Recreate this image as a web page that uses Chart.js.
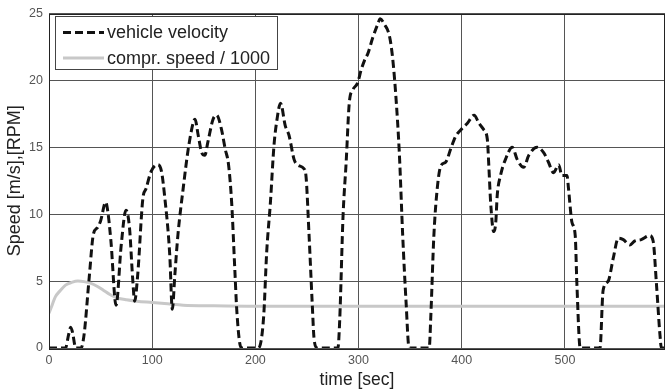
<!DOCTYPE html>
<html><head><meta charset="utf-8">
<script src="https://cdn.jsdelivr.net/npm/chart.js@4"></script>
<style>html,body{margin:0;padding:0;background:#fff}</style>
</head><body>
<canvas id="c" width="667" height="390"></canvas>
<script>
const timeVel = [0,16,19,21,23,25,26,31,34,39,43,47,50,55,57,60,65,70,74.6,78,81,83,86,91,94,99,105.5,109,112,117,119.5,122,125,130,135,140,141.5,144.6,148,151,154,159,162.5,167,170.7,174,177,180,182,185,187,203,208,211,214.6,218,221,224.4,229,232.6,237.5,240.7,247,249,252,255,257,260,280,281.7,285,288,291,294.5,299,302.6,305.8,309,313.8,318.6,321,325,330,333,336,339.5,342.8,346,349,368.5,370,373,376.5,379.7,384.6,389.4,394,399,405.5,412,416.7,421.5,424.8,426.4,428,431,433,434.4,437.6,442.4,449,453.7,460,465,473,479.4,484,489,494,497,502,503.5,506.8,510,511.6,514.8,534,537,542,546.8,551.7,556.6,563,567.8,574,582,585.5,588.7,592,593.5,597];
const vehicleVelocity = [0,0,1.0,1.55,1.1,0.2,0,0,1.0,5.3,8.5,9.0,9.5,10.9,10.2,8.0,3.2,7.7,10.3,9.0,5.3,3.5,5.5,11.2,11.9,13.2,13.7,13.2,11.4,7.0,2.9,5.5,8.5,11.9,14.9,16.9,17.1,15.9,14.6,14.4,15.4,17.1,17.4,16.4,14.9,13.7,10.9,6.0,2.8,0.3,0,0,2.3,7.2,10.9,15.1,17.1,18.3,16.6,15.9,14.1,13.7,13.4,12.9,8.5,3.5,0.6,0,0,2.0,9.9,13.9,18.3,19.3,19.8,20.8,21.5,22.0,23.2,24.2,24.6,24.2,23.3,21.7,19.0,14.6,8.4,3.5,0,0,2.3,8.4,12.1,13.6,13.9,14.9,15.8,16.3,16.8,17.4,16.8,16.3,15.6,13.4,10.9,8.7,9.4,11.4,12.9,14.1,15.0,14.1,13.5,14.4,15.0,14.6,13.9,13.1,13.7,12.9,12.9,11.9,9.4,8.4,4.8,0,0,4.3,5.0,6.7,8.2,8.1,7.7,8.0,8.1,8.4,8.0,4.8,1.1,0,0];
const timeComp = [0,3,6,11,16,22,28,34,40,47,53,59,66,75,85,100,115,130,160,200,597];
const comprSpeed = [2.6,3.2,3.8,4.3,4.7,4.9,5.0,4.96,4.85,4.6,4.3,4.0,3.75,3.6,3.5,3.4,3.3,3.2,3.15,3.12,3.12];
const xTicks = [0,100,200,300,400,500];
const yTicks = [0,5,10,15,20,25];
const seriesLabels = ['vehicle velocity','compr. speed / 1000'];
const xTitle = 'time [sec]';
const yTitle = 'Speed [m/s],[RPM]';

const FONT = '"Liberation Sans", Arial, sans-serif';

const frameAndLegend = {
  id: 'frameAndLegend',
  afterDatasetsDraw(chart) {
    const ctx = chart.ctx, a = chart.chartArea;
    ctx.save();
    ctx.strokeStyle = '#222';
    ctx.lineWidth = 1;
    ctx.setLineDash([]);
    ctx.strokeRect(Math.round(a.left) + 0.5, Math.round(a.top) + 0.5, Math.round(a.right - a.left) - 1, Math.round(a.bottom - a.top));
    // legend box
    const bx = 55.5, by = 16.5, bw = 222, bh = 53;
    ctx.fillStyle = '#fff';
    ctx.fillRect(bx, by, bw, bh);
    ctx.strokeStyle = '#444';
    ctx.strokeRect(bx, by, bw, bh);
    const rows = [32.5, 58];
    chart.data.datasets.forEach((ds, i) => {
      const y = rows[i];
      ctx.beginPath();
      ctx.strokeStyle = ds.borderColor;
      ctx.lineWidth = ds.borderWidth;
      ctx.setLineDash(ds.borderDash || []);
      ctx.moveTo(63, y);
      ctx.lineTo(104, y);
      ctx.stroke();
      ctx.setLineDash([]);
      ctx.fillStyle = '#222';
      ctx.font = '18px ' + FONT;
      ctx.textBaseline = 'middle';
      ctx.textAlign = 'left';
      ctx.fillText(ds.label, 107, y + 1);
    });
    ctx.restore();
  }
};

new Chart(document.getElementById('c'), {
  type: 'line',
  data: {
    datasets: [
      {
        label: seriesLabels[0],
        data: timeVel.map((t, i) => ({x: t, y: vehicleVelocity[i]})),
        borderColor: '#111',
        borderWidth: 3,
        borderDash: [8, 4],
        pointRadius: 0,
        cubicInterpolationMode: 'monotone',
        fill: false
      },
      {
        label: seriesLabels[1],
        data: timeComp.map((t, i) => ({x: t, y: comprSpeed[i]})),
        borderColor: '#c8c8c8',
        borderWidth: 3,
        pointRadius: 0,
        cubicInterpolationMode: 'monotone',
        fill: false
      }
    ]
  },
  options: {
    responsive: false,
    animation: false,
    devicePixelRatio: 1,
    layout: { padding: { top: 10, right: 2, left: 0, bottom: 0 } },
    plugins: { legend: { display: false }, tooltip: { enabled: false } },
    scales: {
      x: {
        type: 'linear',
        min: 0, max: 597,
        afterBuildTicks: s => { s.ticks = xTicks.map(v => ({value: v})); },
        afterFit: s => { s.height = 42; },
        grid: { color: '#555', lineWidth: 1, drawTicks: false },
        border: { display: false },
        ticks: { padding: 5, color: '#555', font: { family: FONT, size: 12.5 }, maxRotation: 0 },
        title: { display: true, text: xTitle, color: '#222', font: { family: FONT, size: 17.5, lineHeight: 1 }, padding: { top: 0, bottom: 1 } }
      },
      y: {
        min: 0, max: 25,
        afterBuildTicks: s => { s.ticks = yTicks.map(v => ({value: v})); },
        afterFit: s => { s.width = 49; },
        grid: { color: '#555', lineWidth: 1, drawTicks: false },
        border: { display: false },
        ticks: { padding: 6, color: '#555', font: { family: FONT, size: 12.5 } },
        title: { display: true, text: yTitle, color: '#222', font: { family: FONT, size: 18, lineHeight: 1.2 }, padding: { top: 4, bottom: 0 } }
      }
    }
  },
  plugins: [frameAndLegend]
});
</script>
</body></html>
